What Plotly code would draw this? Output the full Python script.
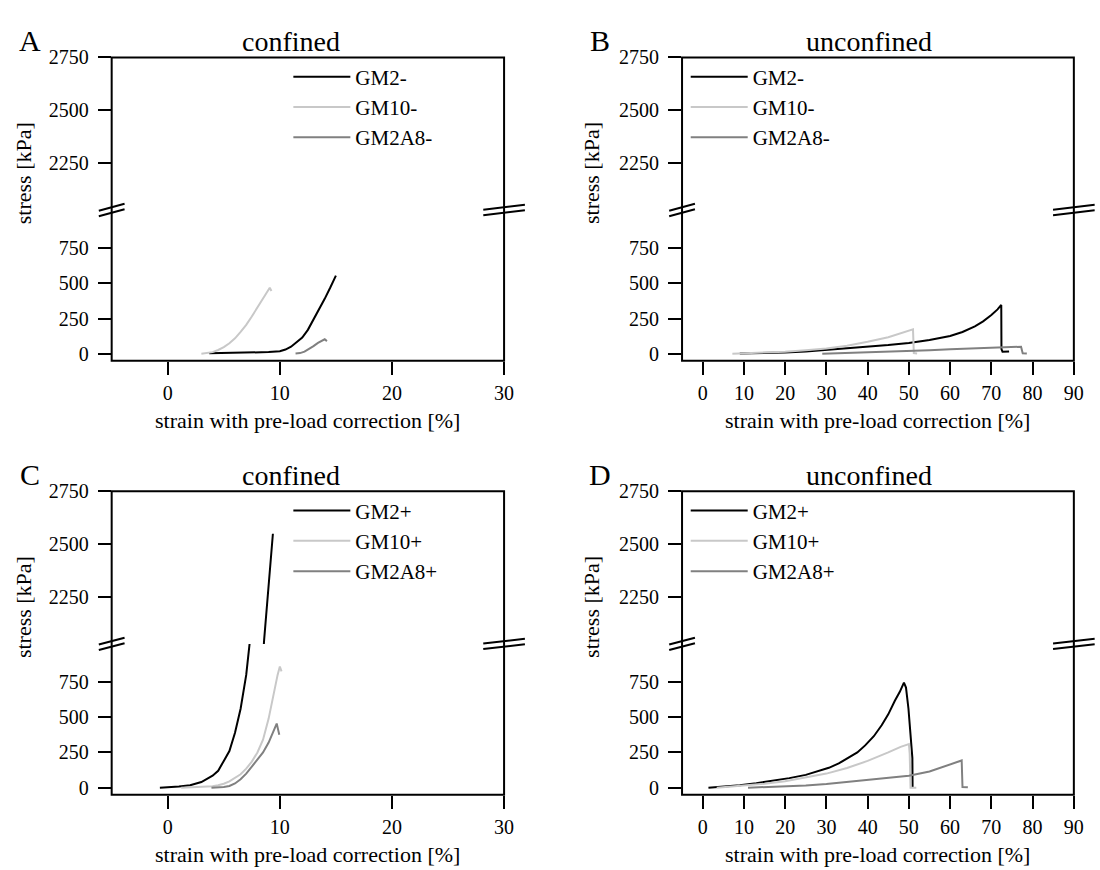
import plotly.graph_objects as go

W, H = 1100, 870

# ---------------- data (strain [%], stress [kPa]) ----------------
# Panel A: confined, "-"
A_GM2_x = [3.7, 5, 7, 9, 10, 10.5, 11, 11.5, 12, 12.5, 13, 13.5, 14, 14.5, 15.0]
A_GM2_y = [4, 6, 8, 12, 18, 30, 50, 80, 115, 170, 240, 320, 390, 470, 555]
A_GM10_x = [3.0, 3.5, 4.0, 4.5, 5.0, 5.5, 6.0, 6.5, 7.0, 7.5, 8.0, 8.5, 9.0, 9.1, 9.25]
A_GM10_y = [0, 4, 12, 27, 47, 75, 110, 155, 205, 265, 328, 395, 455, 468, 445]
A_GM2A8_x = [11.4, 11.8, 12.2, 12.6, 13.0, 13.4, 13.8, 14.0, 14.2]
A_GM2A8_y = [2, 5, 15, 32, 55, 78, 95, 103, 90]

# Panel B: unconfined, "-"
B_GM2_x = [9, 15, 20, 25, 30, 35, 40, 45, 50, 55, 60, 63, 66, 68, 70, 71.5, 72.4,
           72.45, 72.7, 73.5, 74.3]
B_GM2_y = [2, 5, 10, 17, 27, 38, 50, 62, 77, 98, 127, 155, 195, 230, 275, 315, 347,
           33, 15, 15, 17]
B_GM10_x = [7.2, 10, 15, 20, 25, 30, 35, 40, 45, 48, 50, 51.0, 51.2, 52.0]
B_GM10_y = [0, 3, 8, 15, 25, 38, 58, 85, 118, 145, 163, 173, 5, 3]
B_GM2A8_x = [29, 35, 40, 45, 50, 55, 60, 65, 70, 74, 76.5, 77.2, 77.6, 78.6]
B_GM2A8_y = [0, 5, 10, 15, 21, 26, 32, 38, 43, 47, 50, 50, 4, 2]

# Panel C: confined, "+"
C_GM2_x = [-0.7, 0, 1, 2, 3, 4, 4.5, 5, 5.5, 6, 6.5, 7, 7.3, 8.6, 9.0, 9.38]
C_GM2_y = [0, 3, 8, 18, 40, 85, 120, 190, 260, 390, 560, 800, 1010, 2050, 2300, 2550]
C_GM10_x = [1.2, 2, 3, 4, 4.5, 5, 5.5, 6, 6.5, 7, 7.5, 8, 8.5, 9, 9.5, 9.8, 10.0, 10.15]
C_GM10_y = [0, 2, 5, 10, 18, 28, 45, 68, 95, 135, 185, 250, 340, 490, 700, 800, 860, 825]
C_GM2A8_x = [3.9, 4.5, 5, 5.5, 6, 6.5, 7, 7.5, 8, 8.5, 9, 9.4, 9.72, 9.85, 9.95]
C_GM2A8_y = [0, 2, 5, 12, 30, 60, 100, 150, 200, 250, 320, 390, 455, 410, 375]

# Panel D: unconfined, "+"
D_GM2_x = [1.4, 5, 9, 13, 17, 21, 25, 28, 30.6, 33, 35.4, 37.5, 39.4, 41.5, 43.4, 45,
           46.6, 47.8, 48.8, 49.3, 49.9, 50.3, 50.6, 50.85, 50.9]
D_GM2_y = [0, 8, 18, 32, 49, 68, 91, 115, 141, 172, 211, 250, 300, 365, 443, 520,
           617, 680, 745, 710, 560, 380, 260, 210, 0]
D_GM10_x = [3.4, 10, 15, 20, 25, 30, 35, 40, 45, 48, 50.0, 50.2, 50.4, 51.8]
D_GM10_y = [0, 15, 28, 45, 70, 100, 140, 190, 250, 290, 310, 240, 0, 0]
D_GM2A8_x = [11, 15, 20, 25, 30, 35, 40, 45, 50, 55, 58, 61, 62.8, 63.0, 64.3]
D_GM2A8_y = [0, 4, 9, 15, 26, 40, 55, 68, 85, 115, 143, 172, 193, 5, 3]

PANEL_LETTERS = ["A", "B", "C", "D"]
PANEL_TITLES = ["confined", "unconfined", "confined", "unconfined"]
SUFFIX = ["-", "-", "+", "+"]
SERIES = ["GM2", "GM10", "GM2A8"]
X_TICKS = [[0, 10, 20, 30], [0, 10, 20, 30, 40, 50, 60, 70, 80, 90],
           [0, 10, 20, 30], [0, 10, 20, 30, 40, 50, 60, 70, 80, 90]]
X_RANGES = [[-5, 30], [-5, 90], [-5, 30], [-5, 90]]
Y_LOW_TICKS = [0, 250, 500, 750]
Y_HIGH_TICKS = [2250, 2500, 2750]
Y_LOW_RANGE = [-50, 1020]
Y_HIGH_RANGE = [2030, 2750]
X_TITLE = "strain with pre-load correction [%]"
Y_TITLE = "stress [kPa]"

DATA = [
    [(A_GM2_x, A_GM2_y), (A_GM10_x, A_GM10_y), (A_GM2A8_x, A_GM2A8_y)],
    [(B_GM2_x, B_GM2_y), (B_GM10_x, B_GM10_y), (B_GM2A8_x, B_GM2A8_y)],
    [(C_GM2_x, C_GM2_y), (C_GM10_x, C_GM10_y), (C_GM2A8_x, C_GM2A8_y)],
    [(D_GM2_x, D_GM2_y), (D_GM10_x, D_GM10_y), (D_GM2A8_x, D_GM2A8_y)],
]

# ---------------- styling / geometry ----------------
COLORS = ["#000000", "#c8c8c8", "#808080"]
FONT = "Liberation Serif"

# pixel geometry of each panel box: left, right, top, break, bottom
PANELS = [
    dict(l=112.7, r=508.7, t=47.3, k=202.5, b=356.0),
    dict(l=688.3, r=1083.7, t=47.3, k=202.5, b=356.0),
    dict(l=112.7, r=508.7, t=488.8, k=644.0, b=797.5),
    dict(l=688.3, r=1083.7, t=488.8, k=644.0, b=797.5),
]


def px(x):
    return x / W


def py(y):
    return 1 - y / H


fig = go.Figure()
layout = dict(
    width=W, height=H, margin=dict(l=0, r=0, t=0, b=0),
    paper_bgcolor="white", plot_bgcolor="white",
    font=dict(family=FONT, size=20, color="black"),
    showlegend=True,
)
shapes, annotations = [], []

for i, P in enumerate(PANELS):
    n = i + 1
    xa = "xaxis" if n == 1 else f"xaxis{n}"
    xref = "x" if n == 1 else f"x{n}"
    lo_id = 2 * i + 1
    hi_id = 2 * i + 2
    lo_ax = "yaxis" if lo_id == 1 else f"yaxis{lo_id}"
    lo_ref = "y" if lo_id == 1 else f"y{lo_id}"
    hi_ax = f"yaxis{hi_id}"
    hi_ref = f"y{hi_id}"
    leg = "legend" if n == 1 else f"legend{n}"

    layout[xa] = dict(
        domain=[px(P["l"]), px(P["r"])], range=X_RANGES[i], anchor=lo_ref,
        tickmode="array", tickvals=X_TICKS[i], ticks="outside", ticklen=13,
        tickwidth=2, tickcolor="black", showgrid=False, zeroline=False,
        showline=False, tickfont=dict(size=20, family=FONT), ticklabelstandoff=1,
    )
    layout[lo_ax] = dict(
        domain=[py(P["b"]), py(P["k"])], range=Y_LOW_RANGE, anchor=xref,
        tickmode="array", tickvals=Y_LOW_TICKS, ticks="outside", ticklen=13,
        tickwidth=2, tickcolor="black", showgrid=False, zeroline=False,
        showline=False, tickfont=dict(size=20, family=FONT), ticklabelstandoff=5,
    )
    layout[hi_ax] = dict(
        domain=[py(P["k"]), py(P["t"])], range=Y_HIGH_RANGE, anchor=xref,
        tickmode="array", tickvals=Y_HIGH_TICKS, ticks="outside", ticklen=13,
        tickwidth=2, tickcolor="black", showgrid=False, zeroline=False,
        showline=False, tickfont=dict(size=20, family=FONT), ticklabelstandoff=5,
    )

    for j, (xs, ys) in enumerate(DATA[i]):
        name = SERIES[j] + SUFFIX[i]
        for yref, show in ((hi_ref, True), (lo_ref, False)):
            fig.add_trace(go.Scatter(
                x=xs, y=ys, mode="lines", name=name, xaxis=xref, yaxis=yref,
                line=dict(color=COLORS[j], width=2), legend=leg,
                showlegend=show, hoverinfo="skip",
            ))

    # frame
    shapes.append(dict(type="rect", xref="paper", yref="paper",
                       x0=px(P["l"]), x1=px(P["r"]), y0=py(P["b"]), y1=py(P["t"]),
                       line=dict(color="black", width=2), fillcolor="rgba(0,0,0,0)"))
    # break marks (double slashes) on left and right edges
    for cx, half, rise in ((P["l"], 13, 7), (P["r"], 21, 5)):
        for off in (-2.8, 2.8):
            cy = P["k"] + off
            shapes.append(dict(type="line", xref="paper", yref="paper",
                               x0=px(cx - half), y0=py(cy + rise / 2),
                               x1=px(cx + half), y1=py(cy - rise / 2),
                               line=dict(color="black", width=2)))

    # legend
    lx = 296 if i % 2 == 0 else 697
    layout[leg] = dict(
        x=px(lx - 5), y=py(P["t"] - 1), xanchor="left", yanchor="top",
        bgcolor="rgba(0,0,0,0)", borderwidth=0, itemwidth=57,
        font=dict(family=FONT, size=21, color="black"), tracegroupgap=0,
    )

    cxp = (P["l"] + P["r"]) / 2
    # panel title
    tx = 294 if i % 2 == 0 else 877
    annotations.append(dict(text=PANEL_TITLES[i], x=px(tx), y=py(P["t"] - 16),
                            xref="paper", yref="paper", showarrow=False,
                            xanchor="center", yanchor="middle",
                            font=dict(family=FONT, size=28, color="black")))
    # panel letter
    lxp = 30 if i % 2 == 0 else 606
    annotations.append(dict(text=PANEL_LETTERS[i], x=px(lxp), y=py(P["t"] - 17),
                            xref="paper", yref="paper", showarrow=False,
                            xanchor="center", yanchor="middle",
                            font=dict(family=FONT, size=30, color="black")))
    # x title
    annotations.append(dict(text=X_TITLE, x=px(cxp), y=py(P["b"] + 61),
                            xref="paper", yref="paper", showarrow=False,
                            xanchor="center", yanchor="middle",
                            font=dict(family=FONT, size=22, color="black")))
    # y title
    ytx = 24 if i % 2 == 0 else 597
    annotations.append(dict(text=Y_TITLE, x=px(ytx), y=py(P["t"] + 118),
                            xref="paper", yref="paper", showarrow=False,
                            xanchor="center", yanchor="middle", textangle=-90,
                            font=dict(family=FONT, size=22, color="black")))

layout["shapes"] = shapes
layout["annotations"] = annotations
fig.update_layout(**layout)

fig.write_html("out.html", config={"displayModeBar": False},
               post_script="document.body.style.margin='0';")
